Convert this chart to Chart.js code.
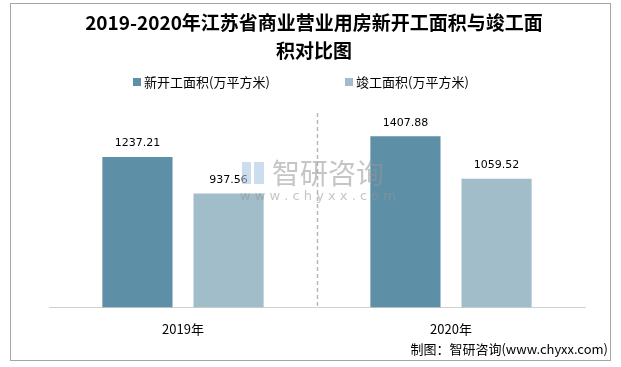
<!DOCTYPE html>
<html>
<head>
<meta charset="utf-8">
<script src="https://cdn.jsdelivr.net/npm/chart.js@4.4.0/dist/chart.umd.min.js"></script>
<style>
    html, body { margin: 0; padding: 0; background: #fff; }
    #wrap { position: relative; width: 621px; height: 367px; }
    #frame { position: absolute; left: 10px; top: 3px; width: 601px; height: 358px; border: 1px solid #a6a6a6; box-sizing: border-box; pointer-events: none; }
</style>
</head>
<body>
<div id="wrap">
    <canvas id="chart" width="621" height="367"></canvas>
    <div id="frame"></div>
</div>
<script>
// Chart data
const years = ['2019年', '2020年'];
const newStarts = [1237.21, 1407.88];
const completions = [937.56, 1059.52];
const seriesNames = ['新开工面积(万平方米)', '竣工面积(万平方米)'];
const titleLines = ['2019-2020年江苏省商业营业用房新开工面积与竣工面', '积对比图'];
const sourceText = '制图：智研咨询(www.chyxx.com)';

const colors = ['#5d90a7', '#a1bdca'];
const cjk = '"Noto Sans CJK SC", "Noto Sans", sans-serif';

// Draws title, legend, value labels, separator, watermark and source
const decorPlugin = {
    id: 'decor',
    afterDatasetsDraw(chart) {
        const ctx = chart.ctx;
        const xs = chart.scales.x;
        const area = chart.chartArea;

        // dashed separator between the two years
        const midX = (xs.getPixelForValue(0) + xs.getPixelForValue(1)) / 2;
        ctx.save();
        ctx.strokeStyle = '#b8b8b8';
        ctx.lineWidth = 1.5;
        ctx.setLineDash([4, 3]);
        ctx.beginPath();
        ctx.moveTo(Math.round(midX) + 0.5, area.top);
        ctx.lineTo(Math.round(midX) + 0.5, area.bottom);
        ctx.stroke();
        ctx.restore();

        // value labels above bars
        ctx.save();
        ctx.font = '11px "DejaVu Sans", sans-serif';
        ctx.fillStyle = '#000';
        ctx.textAlign = 'center';
        ctx.textBaseline = 'bottom';
        chart.data.datasets.forEach((ds, i) => {
            chart.getDatasetMeta(i).data.forEach((bar, j) => {
                ctx.fillText(ds.data[j].toFixed(2), bar.x, bar.y - 8);
            });
        });
        ctx.restore();

        // watermark
        ctx.save();
        ctx.fillStyle = 'rgba(150,150,150,0.55)';
        ctx.font = '28px ' + cjk;
        ctx.textBaseline = 'middle';
        ctx.textAlign = 'left';
        ctx.fillText('智研咨询', 272, 173);
        ctx.font = '13px "DejaVu Sans", sans-serif';
        ctx.fillText('w w w . c h y x x . c o m', 240, 197);
        ctx.fillStyle = 'rgba(170,200,225,0.6)';
        ctx.fillRect(242, 162, 9, 22);
        ctx.fillRect(254, 162, 10, 22);
        ctx.restore();
    },
    afterDraw(chart) {
        const ctx = chart.ctx;
        ctx.save();
        // title
        ctx.fillStyle = '#000';
        ctx.textAlign = 'center';
        ctx.textBaseline = 'middle';
        ctx.font = 'bold 19px ' + cjk;
        ctx.fillText(titleLines[0], 314, 23);
        ctx.fillText(titleLines[1], 314, 51);

        // legend
        ctx.font = '13px ' + cjk;
        ctx.textAlign = 'left';
        const legendX = [133, 345];
        seriesNames.forEach((name, i) => {
            ctx.fillStyle = colors[i];
            ctx.fillRect(legendX[i], 78, 8, 8);
            ctx.fillStyle = '#000';
            ctx.fillText(name, legendX[i] + 11, 82);
        });

        // source
        ctx.textAlign = 'right';
        ctx.font = '13px ' + cjk;
        ctx.fillText(sourceText, 608, 349);
        ctx.restore();
    }
};

const chart = new Chart(document.getElementById('chart'), {
    type: 'bar',
    data: {
        labels: years,
        datasets: [
            { label: seriesNames[0], data: newStarts, backgroundColor: colors[0] },
            { label: seriesNames[1], data: completions, backgroundColor: colors[1] }
        ]
    },
    options: {
        responsive: false,
        animation: false,
        events: [],
        layout: { padding: { top: 113, left: 49, right: 36, bottom: 16 } },
        datasets: {
            bar: { categoryPercentage: 0.68, barPercentage: 0.77 }
        },
        plugins: {
            legend: { display: false },
            title: { display: false },
            tooltip: { enabled: false }
        },
        scales: {
            x: {
                grid: { display: false, drawTicks: false },
                border: { color: '#d0d0d0', width: 1 },
                ticks: {
                    color: '#000',
                    padding: 14,
                    font: { size: 13, family: cjk }
                }
            },
            y: {
                display: false,
                min: 0,
                max: 1600
            }
        }
    },
    plugins: [decorPlugin]
});
</script>
</body>
</html>
